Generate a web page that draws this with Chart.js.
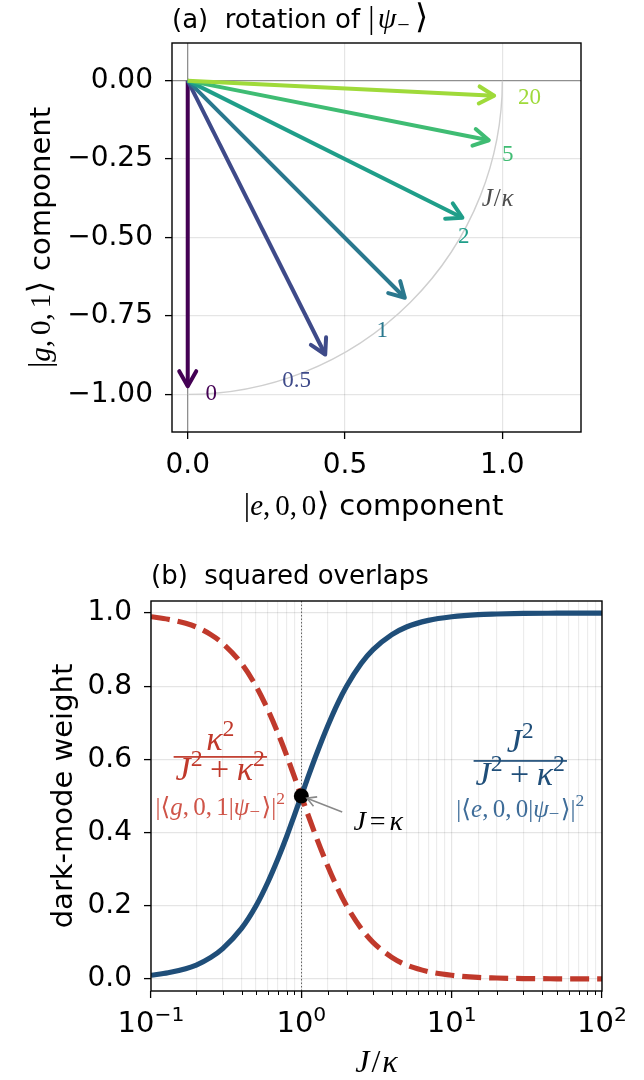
<!DOCTYPE html>
<html>
<head>
<meta charset="utf-8">
<title>Rotation of the dark mode</title>
<script src="https://cdn.jsdelivr.net/npm/chart.js@4.4.1/dist/chart.umd.min.js"></script>
<style>
html,body{margin:0;padding:0;background:#fff;}
canvas{position:absolute;left:0;}
#ca{top:0;}
#cb{top:540px;}
</style>
</head>
<body>
<canvas id="ca" width="644" height="540"></canvas>
<canvas id="cb" width="644" height="540"></canvas>
<script>
// ================= DATA =================
// Panel (a): arrow tips of |psi_-> for several J/kappa
const ratioLabels = ['0', '0.5', '1', '2', '5', '20'];
const tipE = [0.000, 0.437, 0.690, 0.873, 0.957, 0.974];        // |e,0,0> component
const tipG = [-0.974, -0.873, -0.692, -0.437, -0.190, -0.048];  // |g,0,1> component
const ticksAx = [0, 0.5, 1.0];
const ticksAy = [0, -0.25, -0.5, -0.75, -1.0];
// where each J/kappa value is written (data coordinates)
const labelAx = [0.075, 0.346, 0.618, 0.877, 1.017, 1.086];
const labelAy = [-0.998, -0.958, -0.799, -0.498, -0.237, -0.056];

// Panel (b): squared overlaps vs J/kappa
const ratio   = [0.1, 0.13, 0.17, 0.2, 0.25, 0.3, 0.4, 0.5, 0.6, 0.7, 0.8, 0.9, 1, 1.1, 1.25, 1.5, 1.75, 2, 2.5, 3, 4, 5, 7, 10, 15, 20, 30, 50, 100];
const weightE = [0.010, 0.017, 0.028, 0.038, 0.059, 0.083, 0.138, 0.200, 0.265, 0.329, 0.390, 0.448, 0.500, 0.548, 0.610, 0.692, 0.754, 0.800, 0.862, 0.900, 0.941, 0.962, 0.980, 0.990, 0.996, 0.9975, 0.999, 0.9996, 0.9999];
const weightG = [0.990, 0.983, 0.972, 0.962, 0.941, 0.917, 0.862, 0.800, 0.735, 0.671, 0.610, 0.552, 0.500, 0.452, 0.390, 0.308, 0.246, 0.200, 0.138, 0.100, 0.059, 0.038, 0.020, 0.010, 0.004, 0.0025, 0.001, 0.0004, 0.0001];
const crossX = [1];
const crossY = [0.5];
const ticksBx = [0.1, 1, 10, 100];
const expBx = ['\u22121', '0', '1', '2'];
const ticksBy = [0, 0.2, 0.4, 0.6, 0.8, 1.0];

// ================= STYLE =================
const SANS = '"DejaVu Sans", sans-serif';
const SERIF = '"Liberation Serif", "DejaVu Serif", "DejaVu Sans", serif';
const arrowColors = ['#440154', '#3e4a89', '#2a788e', '#1f9e89', '#3fbc73', '#9fda3a'];
const BLUE = '#1f4e79';
const RED = '#c0392b';
const BLUE_SUB = '#3f6d99';
const RED_SUB = '#cf5448';
const GRID = 'rgba(0,0,0,0.10)';
const GRID_MINOR = 'rgba(0,0,0,0.075)';
Chart.defaults.font.family = SANS;

function rich(ctx, segs, x, y, align, size, color) {
  const items = segs.map(s => {
    const sz = size * (s.sc || 1);
    const font = (s.it ? 'italic ' : '') + sz + 'px ' + (s.f || SERIF);
    ctx.font = font;
    return { t: s.t, font, w: ctx.measureText(s.t).width + (s.sp || 0) * size, dy: (s.dy || 0) * size, c: s.c };
  });
  const total = items.reduce((a, b) => a + b.w, 0);
  let cx = align === 'center' ? x - total / 2 : align === 'right' ? x - total : x;
  ctx.textAlign = 'left';
  ctx.textBaseline = 'alphabetic';
  for (const it of items) {
    ctx.font = it.font;
    ctx.fillStyle = it.c || color;
    ctx.fillText(it.t, cx, y - it.dy);
    cx += it.w;
  }
  return total;
}
function measureRich(ctx, segs, size) {
  let w = 0;
  for (const s of segs) {
    ctx.font = (s.it ? 'italic ' : '') + size * (s.sc || 1) + 'px ' + (s.f || SERIF);
    w += ctx.measureText(s.t).width + (s.sp || 0) * size;
  }
  return w;
}
function arrowHead(ctx, x0, y0, x1, y1, L, W) {
  const a = Math.atan2(y1 - y0, x1 - x0);
  const c = Math.cos(a), s = Math.sin(a);
  const bx = x1 - L * c, by = y1 - L * s;
  ctx.beginPath();
  ctx.moveTo(bx - W * s, by + W * c);
  ctx.lineTo(x1, y1);
  ctx.lineTo(bx + W * s, by - W * c);
  ctx.stroke();
}
function frame(ctx, a) {
  ctx.save();
  ctx.strokeStyle = '#000';
  ctx.lineWidth = 1.4;
  ctx.strokeRect(a.left, a.top, a.right - a.left, a.bottom - a.top);
  ctx.restore();
}
const isMajor = v => Math.abs(Math.log10(v) - Math.round(Math.log10(v))) < 1e-6;

// ================= PANEL (a) =================
const panelA = {
  id: 'panelA',
  beforeDatasetsDraw(chart) {
    const { ctx, chartArea: a, scales: { x, y } } = chart;
    ctx.save();
    ctx.beginPath(); ctx.rect(a.left, a.top, a.right - a.left, a.bottom - a.top); ctx.clip();
    const cx = x.getPixelForValue(0), cy = y.getPixelForValue(0);
    const rx = x.getPixelForValue(1) - cx, ry = y.getPixelForValue(-1) - cy;
    ctx.strokeStyle = '#cfcfcf';
    ctx.lineWidth = 1.4;
    ctx.beginPath(); ctx.ellipse(cx, cy, rx, ry, 0, 0, Math.PI / 2); ctx.stroke();
    ctx.restore();
  },
  afterDatasetsDraw(chart) {
    const { ctx } = chart;
    ctx.save();
    ctx.lineJoin = 'round'; ctx.lineCap = 'round';
    chart.data.datasets.forEach((ds, i) => {
      if (!ds.arrow) return;
      const m = chart.getDatasetMeta(i);
      const p0 = m.data[0], p1 = m.data[1];
      ctx.strokeStyle = ds.borderColor;
      ctx.lineWidth = 4;
      arrowHead(ctx, p0.x, p0.y, p1.x, p1.y, 15, 8.5);
    });
    ctx.restore();
  },
  afterDraw(chart) {
    const { ctx, chartArea: a, scales: { x, y } } = chart;
    frame(ctx, a);
    ctx.save();
    // J/kappa values next to the arrows
    ctx.textAlign = 'center'; ctx.textBaseline = 'middle';
    ctx.font = '23px ' + SERIF;
    ratioLabels.forEach((r, i) => {
      ctx.fillStyle = arrowColors[i];
      ctx.fillText(r, x.getPixelForValue(labelAx[i]), y.getPixelForValue(labelAy[i]));
    });
    rich(ctx, [{ t: 'J', it: 1, sp: 0.03 }, { t: '/', sp: 0.03 }, { t: '\u03ba', it: 1 }], x.getPixelForValue(0.985), y.getPixelForValue(-0.399), 'center', 25, '#4d4d4d');
    // title
    rich(ctx, [{ t: '(a)  rotation of ', f: SANS }, { t: '|', sc: 1.2, sp: 0.12 }, { t: '\u03c8', it: 1, sc: 1.15, sp: 0.04 }, { t: '\u2212', sc: 0.85, dy: -0.14, sp: 0.2 }, { t: '\u27e9', sc: 1.3 }], a.left, 28, 'left', 26, '#000');
    // x label
    rich(ctx, [{ t: '|', sc: 1.1 }, { t: 'e', it: 1 }, { t: ',', sp: 0.17 }, { t: '0' }, { t: ',', sp: 0.17 }, { t: '0', sp: 0.02 }, { t: '\u27e9', sc: 1.1, sp: 0.02 }, { t: ' component', f: SANS }], (a.left + a.right) / 2 - 3, 515, 'center', 29, '#000');
    // y label
    ctx.translate(50, (a.top + a.bottom) / 2);
    ctx.rotate(-Math.PI / 2);
    rich(ctx, [{ t: '|', sc: 1.1 }, { t: 'g', it: 1 }, { t: ',', sp: 0.17 }, { t: '0' }, { t: ',', sp: 0.17 }, { t: '1', sp: 0.02 }, { t: '\u27e9', sc: 1.1, sp: 0.02 }, { t: ' component', f: SANS }], 0, 0, 'center', 29, '#000');
    ctx.restore();
  }
};

new Chart(document.getElementById('ca'), {
  type: 'scatter',
  data: {
    datasets: ratioLabels.map((r, i) => ({
      label: 'J/\u03ba = ' + r,
      data: [{ x: 0, y: 0 }, { x: tipE[i], y: tipG[i] }],
      showLine: true,
      borderColor: arrowColors[i],
      backgroundColor: arrowColors[i],
      borderWidth: 4,
      borderCapStyle: 'butt',
      pointRadius: 0,
      pointHoverRadius: 0,
      order: ratioLabels.length - 1 - i,
      arrow: true
    }))
  },
  options: {
    responsive: false,
    animation: false,
    events: [],
    layout: { padding: { left: 0, right: 63, top: 43, bottom: 0 } },
    plugins: { legend: { display: false }, tooltip: { enabled: false }, title: { display: false } },
    scales: {
      x: {
        type: 'linear', min: -0.05, max: 1.25,
        afterBuildTicks: s => { s.ticks = ticksAx.map(v => ({ value: v })); },
        afterFit: s => { s.height = 108; },
        border: { display: false },
        grid: {
          color: c => (c.tick && c.tick.value === 0) ? '#8f8f8f' : GRID,
          lineWidth: c => (c.tick && c.tick.value === 0) ? 1.3 : 1.2,
          tickColor: '#000', tickLength: 7, tickWidth: 1.3
        },
        ticks: { font: { family: SANS, size: 28 }, color: '#000', padding: 10, maxRotation: 0, autoSkip: false, callback: v => Number(v).toFixed(1) }
      },
      y: {
        type: 'linear', min: -1.12, max: 0.12,
        afterBuildTicks: s => { s.ticks = ticksAy.map(v => ({ value: v })); },
        afterFit: s => { s.width = 172; },
        border: { display: false },
        grid: {
          color: c => (c.tick && c.tick.value === 0) ? '#8f8f8f' : GRID,
          lineWidth: c => (c.tick && c.tick.value === 0) ? 1.3 : 1.2,
          tickColor: '#000', tickLength: 7, tickWidth: 1.3
        },
        ticks: { font: { family: SANS, size: 28 }, color: '#000', padding: 12, autoSkip: false, callback: v => (Number(v) === 0 ? '0.00' : Number(v).toFixed(2).replace('-', '\u2212')) }
      }
    }
  },
  plugins: [panelA]
});

// ================= PANEL (b) =================
const panelB = {
  id: 'panelB',
  beforeDatasetsDraw(chart) {
    const { ctx, chartArea: a, scales: { x } } = chart;
    ctx.save();
    const px = Math.round(x.getPixelForValue(crossX[0])) + 0.5;
    ctx.strokeStyle = '#666';
    ctx.lineWidth = 1;
    ctx.setLineDash([1.5, 2]);
    ctx.beginPath(); ctx.moveTo(px, a.top); ctx.lineTo(px, a.bottom); ctx.stroke();
    ctx.restore();
  },
  afterDatasetsDraw(chart) {
    const { ctx, scales: { x, y } } = chart;
    ctx.save();
    ctx.strokeStyle = '#888';
    ctx.lineWidth = 1.6;
    const x0 = x.getPixelForValue(1.87), y0 = y.getPixelForValue(0.456);
    const x1 = x.getPixelForValue(1.09), y1 = y.getPixelForValue(0.494);
    ctx.beginPath(); ctx.moveTo(x0, y0); ctx.lineTo(x1, y1); ctx.stroke();
    arrowHead(ctx, x0, y0, x1, y1, 9, 5);
    ctx.restore();
  },
  afterDraw(chart) {
    const { ctx, chartArea: a, scales: { x, y } } = chart;
    frame(ctx, a);
    ctx.save();
    // minor ticks
    ctx.strokeStyle = '#000'; ctx.lineWidth = 1;
    x.ticks.forEach(t => {
      if (isMajor(t.value)) return;
      const px = Math.round(x.getPixelForValue(t.value)) + 0.5;
      ctx.beginPath(); ctx.moveTo(px, a.bottom); ctx.lineTo(px, a.bottom + 4); ctx.stroke();
    });
    // log tick labels 10^n
    ticksBx.forEach((v, i) => {
      const px = x.getPixelForValue(v);
      const segs = [{ t: '10', f: SANS }, { t: expBx[i], f: SANS, sc: 0.7, dy: 0.37 }];
      const w = measureRich(ctx, segs, 29);
      rich(ctx, segs, px - w / 2, 492, 'left', 29, '#000');
    });
    // title
    rich(ctx, [{ t: '(b)  squared overlaps', f: SANS }], a.left, 44, 'left', 26, '#000');
    // x label
    rich(ctx, [{ t: 'J', it: 1, sp: 0.06 }, { t: '/', sp: 0.06 }, { t: '\u03ba', it: 1 }], (a.left + a.right) / 2, 532, 'center', 32, '#000');
    // fractions
    const frac = (num, den, sub, cx, yNum, yBar, yDen, ySub, color, subColor) => {
      rich(ctx, num, cx, yNum, 'center', 34, color);
      const w = rich(ctx, den, cx, yDen, 'center', 34, color);
      ctx.fillStyle = color;
      ctx.fillRect(cx - w / 2 - 2, yBar - 0.8, w + 4, 1.7);
      rich(ctx, sub, cx, ySub, 'center', 25, subColor);
    };
    const kNum = [{ t: '\u03ba', it: 1 }, { t: '2', sc: 0.7, dy: 0.42 }];
    const jNum = [{ t: 'J', it: 1 }, { t: '2', sc: 0.7, dy: 0.42 }];
    const den = [{ t: 'J', it: 1 }, { t: '2', sc: 0.7, dy: 0.42, sp: 0.22 }, { t: '+', sp: 0.22 }, { t: '\u03ba', it: 1 }, { t: '2', sc: 0.7, dy: 0.42 }];
    const subG = [{ t: '|\u27e8' }, { t: 'g', it: 1 }, { t: ',', sp: 0.17 }, { t: '0' }, { t: ',', sp: 0.17 }, { t: '1' }, { t: '|' }, { t: '\u03c8', it: 1 }, { t: '\u2212', sc: 0.75, dy: -0.12, sp: 0.06 }, { t: '\u27e9|' }, { t: '2', sc: 0.7, dy: 0.45 }];
    const subE = [{ t: '|\u27e8' }, { t: 'e', it: 1 }, { t: ',', sp: 0.17 }, { t: '0' }, { t: ',', sp: 0.17 }, { t: '0' }, { t: '|' }, { t: '\u03c8', it: 1 }, { t: '\u2212', sc: 0.75, dy: -0.12, sp: 0.06 }, { t: '\u27e9|' }, { t: '2', sc: 0.7, dy: 0.45 }];
    const cxR = x.getPixelForValue(0.289), cxB = x.getPixelForValue(28.6);
    frac(kNum, den, subG, cxR, y.getPixelForValue(0.626), y.getPixelForValue(0.607), y.getPixelForValue(0.544), y.getPixelForValue(0.448), RED, RED_SUB);
    frac(jNum, den, subE, cxB, y.getPixelForValue(0.620), y.getPixelForValue(0.596), y.getPixelForValue(0.530), y.getPixelForValue(0.443), BLUE, BLUE_SUB);
    // J = kappa
    rich(ctx, [{ t: 'J', it: 1, sp: 0.14 }, { t: '=', sp: 0.14 }, { t: '\u03ba', it: 1 }], x.getPixelForValue(2.22), y.getPixelForValue(0.407), 'left', 28, '#000');
    // y label
    ctx.translate(72, (a.top + a.bottom) / 2);
    ctx.rotate(-Math.PI / 2);
    rich(ctx, [{ t: 'dark-mode weight', f: SANS }], 0, 0, 'center', 29, '#000');
    ctx.restore();
  }
};

new Chart(document.getElementById('cb'), {
  type: 'scatter',
  data: {
    datasets: [
      {
        label: '|\u27e8g,0,1|\u03c8\u2212\u27e9|\u00b2',
        data: ratio.map((r, i) => ({ x: r, y: weightG[i] })),
        showLine: true, borderColor: RED, backgroundColor: RED, borderWidth: 5.2,
        borderDash: [19, 8], borderCapStyle: 'butt', pointRadius: 0, pointHoverRadius: 0,
        cubicInterpolationMode: 'monotone', order: 1
      },
      {
        label: '|\u27e8e,0,0|\u03c8\u2212\u27e9|\u00b2',
        data: ratio.map((r, i) => ({ x: r, y: weightE[i] })),
        showLine: true, borderColor: BLUE, backgroundColor: BLUE, borderWidth: 5.2,
        pointRadius: 0, pointHoverRadius: 0, cubicInterpolationMode: 'monotone', order: 2
      },
      {
        label: 'J = \u03ba',
        data: crossX.map((v, i) => ({ x: v, y: crossY[i] })),
        pointRadius: 7.5, pointHoverRadius: 7.5, backgroundColor: '#000', borderWidth: 0, order: 0
      }
    ]
  },
  options: {
    responsive: false,
    animation: false,
    events: [],
    layout: { padding: { left: 0, right: 42, top: 61, bottom: 0 } },
    plugins: { legend: { display: false }, tooltip: { enabled: false }, title: { display: false } },
    scales: {
      x: {
        type: 'logarithmic', min: 0.1, max: 100,
        afterFit: s => { s.height = 89; },
        border: { display: false },
        grid: {
          color: c => (c.tick && isMajor(c.tick.value)) ? GRID : GRID_MINOR,
          lineWidth: 1.2,
          tickColor: c => (c.tick && isMajor(c.tick.value)) ? '#000' : 'rgba(0,0,0,0)',
          tickLength: 7, tickWidth: 1.3
        },
        ticks: { autoSkip: false, maxRotation: 0, font: { family: SANS, size: 28 }, callback: () => '' }
      },
      y: {
        type: 'linear', min: -0.033, max: 1.033,
        afterBuildTicks: s => { s.ticks = ticksBy.map(v => ({ value: v })); },
        afterFit: s => { s.width = 151; },
        border: { display: false },
        grid: { color: GRID, lineWidth: 1.2, tickColor: '#000', tickLength: 7, tickWidth: 1.3 },
        ticks: { font: { family: SANS, size: 28 }, color: '#000', padding: 12, autoSkip: false, callback: v => Number(v).toFixed(1) }
      }
    }
  },
  plugins: [panelB]
});
</script>
</body>
</html>
